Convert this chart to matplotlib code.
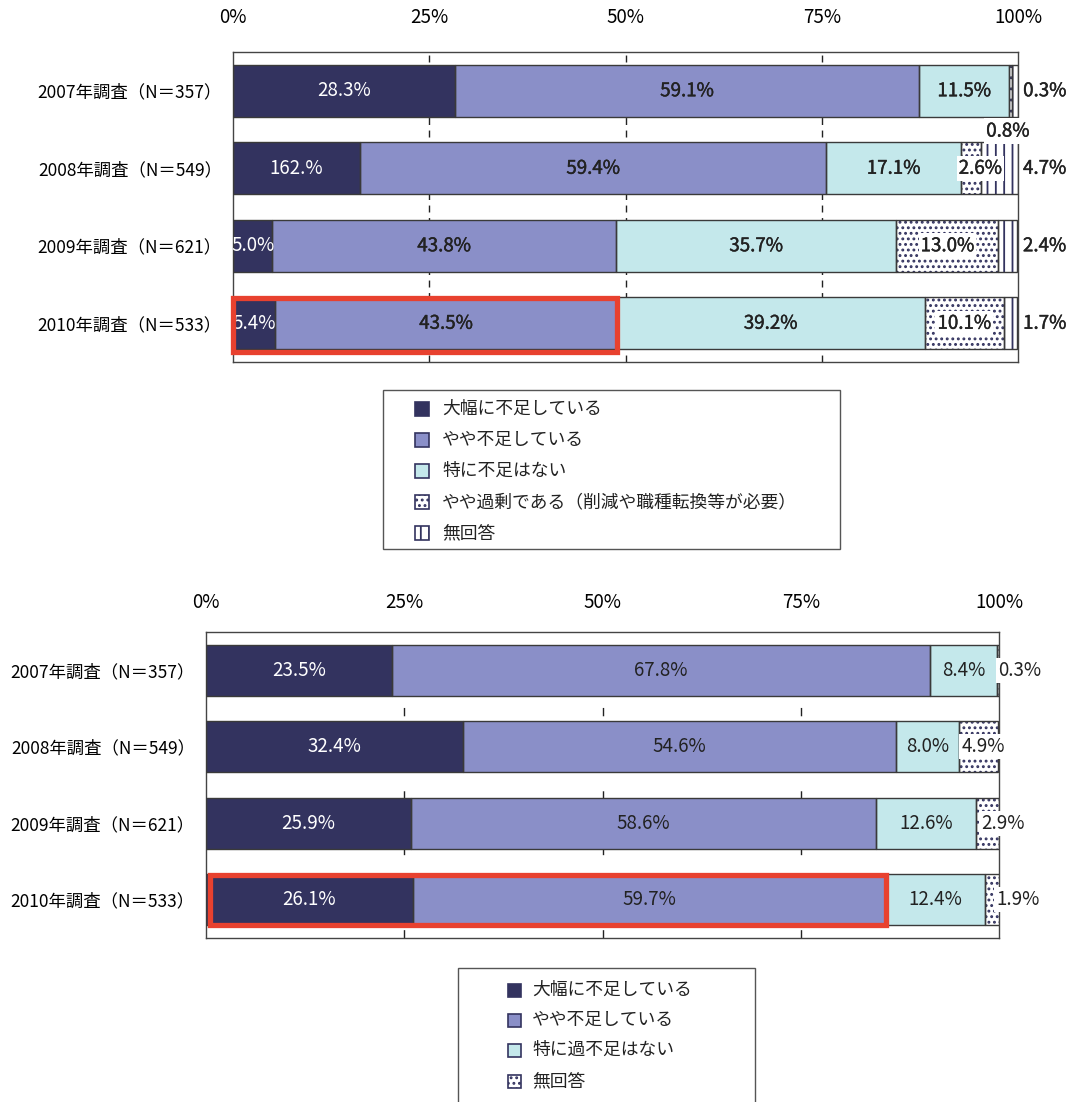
import numpy as np
import matplotlib.pyplot as plt
import matplotlib.patheffects as pe
from matplotlib.patches import Rectangle

plt.rcParams['font.family'] = ['Noto Sans CJK JP', 'DejaVu Sans']
plt.rcParams['hatch.linewidth'] = 1.3

# ---- datos ----
years = ['2007年調査（N＝357）', '2008年調査（N＝549）',
         '2009年調査（N＝621）', '2010年調査（N＝533）']
xticks = [0, 25, 50, 75, 100]

top_names = ['大幅に不足している', 'やや不足している', '特に不足はない',
             'やや過剰である（削減や職種転換等が必要）', '無回答']
top_severe = [28.3, 16.2, 5.0, 5.4]
top_some = [59.1, 59.4, 43.8, 43.5]
top_none = [11.5, 17.1, 35.7, 39.2]
top_excess = [0.3, 2.6, 13.0, 10.1]
top_noans = [0.8, 4.7, 2.4, 1.7]
top_typo = {(1, 0): '162.%'}   # errata del original

bot_names = ['大幅に不足している', 'やや不足している', '特に過不足はない', '無回答']
bot_severe = [23.5, 32.4, 25.9, 26.1]
bot_some = [67.8, 54.6, 58.6, 59.7]
bot_none = [8.4, 8.0, 12.6, 12.4]
bot_noans = [0.3, 4.9, 2.9, 1.9]

# ---- estilo ----
navy = '#33335f'
fills = ['#33335f', '#8a8fc8', '#c4e8eb', 'white', 'white']
top_hatches = [None, None, None, '...', '||']
bot_hatches = [None, None, None, '...']
edge = '#3a3a3a'
red = '#e8412f'

# posiciones manuales de etiquetas pequeñas (x en %, desplazamiento y)
top_pos = {(0, 3): (103.4, 0), (0, 4): (98.7, 0.52), (1, 3): (95.2, 0),
           (1, 4): (103.4, 0), (2, 4): (103.4, 0), (3, 4): (103.4, 0)}
bot_pos = {(0, 3): (102.6, 0), (1, 3): (98.0, 0), (2, 3): (100.5, 0),
           (3, 3): (102.4, 0)}


def draw(ax, series, hatches, pos, typo, heavy, grid_dash, box):
    vals = np.array(series).T
    y = np.arange(len(years))
    left = np.zeros(len(years))
    for j in range(vals.shape[1]):
        w = vals[:, j]
        h = hatches[j]
        ax.barh(y, w, left=left, height=0.67, color=fills[j], hatch=h,
                edgecolor=navy, lw=0, zorder=2)
        ax.barh(y, w, left=left, height=0.67, fill=False, edgecolor=edge,
                lw=1, zorder=3)
        for i in range(len(years)):
            txt = typo.get((i, j), f'{w[i]:.1f}%')
            xx, dy = pos.get((i, j), (left[i] + w[i] / 2, 0))
            col = 'white' if j == 0 else '#222222'
            kw = {}
            if j >= 3:
                kw['bbox'] = dict(facecolor='white', edgecolor='none', pad=1.5)
            t = ax.text(xx, y[i] + dy, txt, ha='center', va='center',
                        fontsize=13.5, color=col, zorder=5, clip_on=False, **kw)
            if heavy and j > 0:
                # semi-negrita: trazo fino del mismo color
                t.set_path_effects([pe.withStroke(linewidth=0.3, foreground=col)])
        left += w

    for x in xticks[1:-1]:
        ax.axvline(x, color='#222222', lw=1, ls=grid_dash, zorder=1)

    # recuadro rojo sobre 2010 (dos primeras categorías)
    x0, y0, y1 = box
    ax.add_patch(Rectangle((x0, 3 + y0), vals[3, 0] + vals[3, 1] - x0, y1 - y0,
                           fill=False, edgecolor=red, lw=3.8, zorder=6,
                           clip_on=False))

    ax.set_xlim(0, 100)
    ax.set_ylim(3.5, -0.5)
    ax.set_yticks(y)
    ax.set_yticklabels(years, fontsize=12.5)
    ax.xaxis.tick_top()
    ax.set_xticks(xticks)
    ax.set_xticklabels([f'{x}%' for x in xticks], fontsize=13.5)
    ax.tick_params(length=0)
    ax.tick_params(axis='y', pad=8)
    for s in ax.spines.values():
        s.set_color('#444444')
        s.set_linewidth(1)


def legend_box(fig, names, hatches, box, px, tx, rows, size):
    W, H = 1072, 1102
    x0, y0, x1, y1 = box
    fig.add_artist(Rectangle((x0 / W, 1 - y1 / H), (x1 - x0) / W, (y1 - y0) / H,
                             transform=fig.transFigure, fill=False,
                             edgecolor='#555555', lw=1))
    for k, name in enumerate(names):
        yc = rows[k]
        fig.add_artist(Rectangle(((px - size / 2) / W, 1 - (yc + size / 2) / H),
                                 size / W, size / H, transform=fig.transFigure,
                                 facecolor=fills[k], hatch=hatches[k],
                                 edgecolor=navy, lw=1.2))
        fig.text(tx / W, 1 - yc / H, name, ha='left', va='center',
                 fontsize=12.8, color='#222222')


fig = plt.figure(figsize=(10.72, 11.02), dpi=100)

ax1 = fig.add_axes([233 / 1072, 1 - 362 / 1102, 785 / 1072, 310 / 1102])
draw(ax1, [top_severe, top_some, top_none, top_excess, top_noans],
     top_hatches, top_pos, top_typo, True, (0, (5, 4)),
     (0, -0.33, 0.37))
ax1.tick_params(axis='x', pad=17)

ax2 = fig.add_axes([206 / 1072, 1 - 938 / 1102, 793 / 1072, 306 / 1102])
draw(ax2, [bot_severe, bot_some, bot_none, bot_noans],
     bot_hatches, bot_pos, {}, False, (0, (6, 14)),
     (0.5, -0.33, 0.33))
ax2.tick_params(axis='x', pad=14)

legend_box(fig, top_names, top_hatches, (383, 390, 840, 549), 422, 442,
           [409, 440, 471, 502, 533], 14)
legend_box(fig, bot_names, bot_hatches, (458, 968, 755, 1110), 514, 532,
           [990, 1020, 1050, 1081], 13)

fig.savefig('out.png', dpi=100)
